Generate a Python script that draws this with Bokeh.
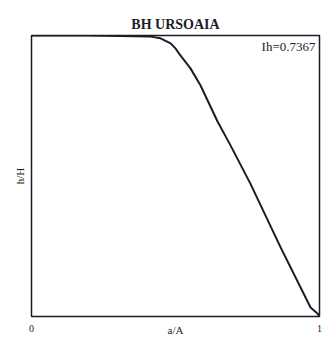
from bokeh.plotting import figure
from bokeh.models import Range1d, FixedTicker, Label
from bokeh.embed import file_html
from bokeh.resources import INLINE

# relative area vs relative height (hypsometric curve)
rel_area = [0.0, 0.20, 0.413, 0.448, 0.483, 0.500, 0.517, 0.552, 0.587, 0.646, 0.691, 0.760, 0.865, 0.969, 0.993, 1.0]
rel_height = [1.0, 1.0, 0.996, 0.990, 0.972, 0.954, 0.929, 0.883, 0.822, 0.694, 0.609, 0.473, 0.246, 0.032, 0.011, 0.0]
title_text = "BH URSOAIA"
annot_text = "Ih=0.7367"
x_ticks = [0, 1]

FONT = "Liberation Serif"
INK = "#1c1c28"

p = figure(width=326, height=343, output_backend="svg", toolbar_location=None,
           x_range=Range1d(0, 1), y_range=Range1d(0, 1),
           min_border_left=31, min_border_right=7, min_border_top=35, min_border_bottom=27)
p.frame_width = 288
p.frame_height = 281

p.title.text = title_text
p.title.text_font = FONT
p.title.text_font_size = "14px"
p.title.text_font_style = "bold"
p.title.align = "center"
p.title.text_color = INK
p.title.standoff = 8

p.line(rel_area, rel_height, line_color=INK, line_width=2, line_join="round")

p.xgrid.visible = False
p.ygrid.visible = False
p.outline_line_color = INK
p.outline_line_width = 1.5

p.xaxis.ticker = FixedTicker(ticks=x_ticks)
p.xaxis.major_tick_line_color = None
p.xaxis.minor_tick_line_color = None
p.xaxis.axis_line_color = None
p.xaxis.major_label_standoff = 2
p.xaxis.major_label_text_font = FONT
p.xaxis.major_label_text_font_size = "10px"
p.xaxis.major_label_text_color = INK
p.xaxis.axis_label = "a/A"
p.xaxis.axis_label_text_font = FONT
p.xaxis.axis_label_text_font_style = "normal"
p.xaxis.axis_label_text_font_size = "11px"
p.xaxis.axis_label_standoff = -11
p.xaxis.axis_label_text_color = INK

p.yaxis.ticker = FixedTicker(ticks=[])
p.yaxis.major_tick_line_color = None
p.yaxis.minor_tick_line_color = None
p.yaxis.axis_line_color = None
p.yaxis.axis_label = "h/H"
p.yaxis.axis_label_text_font = FONT
p.yaxis.axis_label_text_font_style = "normal"
p.yaxis.axis_label_text_font_size = "11px"
p.yaxis.axis_label_standoff = 6
p.yaxis.axis_label_text_color = INK

p.add_layout(Label(x=1, y=1, x_offset=-4, y_offset=-3, text=annot_text,
                   text_align="right", text_baseline="top",
                   text_font=FONT, text_font_size="13px", text_color=INK))

open("out.html", "w").write(file_html(p, INLINE))
